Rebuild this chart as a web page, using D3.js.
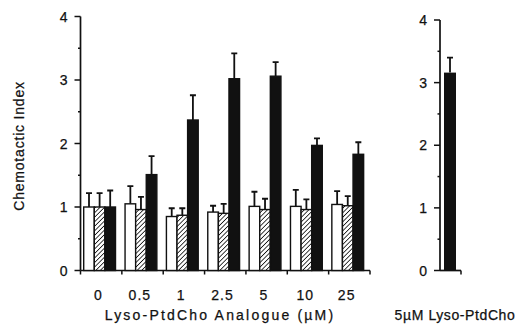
<!DOCTYPE html>
<html>
<head>
<meta charset="utf-8">
<script src="https://cdn.jsdelivr.net/npm/d3@7"></script>
<style>
  body { margin: 0; background: #fff; }
  svg { display: block; }
  text { font-family: "Liberation Sans", Arial, Helvetica, sans-serif; fill: #111; stroke: #111; stroke-width: 0.25px; }
</style>
</head>
<body>
<svg width="522" height="324"></svg>
<script>
// concentrations of the analogue (uM)
const concentrations = ["0", "0.5", "1", "2.5", "5", "10", "25"];
const series = ["open", "hatched", "solid"];

// chemotactic index
const openValues    = [1.00, 1.05, 0.85, 0.92, 1.01, 1.01, 1.04];
const openErr       = [0.22, 0.28, 0.13, 0.10, 0.23, 0.26, 0.21];
const hatchedValues = [1.00, 0.96, 0.87, 0.90, 0.96, 0.96, 1.02];
const hatchedErr    = [0.22, 0.20, 0.11, 0.15, 0.17, 0.16, 0.15];
const solidValues   = [1.00, 1.51, 2.37, 3.02, 3.06, 1.97, 1.83];
const solidErr      = [0.26, 0.29, 0.39, 0.40, 0.22, 0.11, 0.19];

// 5 uM Lyso-PtdCho reference
const refCategory = ["5µM Lyso-PtdCho"];
const refValues = [3.16];
const refErr = [0.24];

const yTicks = [0, 1, 2, 3, 4];
const yMinor = [0.5, 1.5, 2.5, 3.5];

const svg = d3.select("svg");

const defs = svg.append("defs");
const pat = defs.append("pattern")
  .attr("id", "hatch")
  .attr("patternUnits", "userSpaceOnUse")
  .attr("width", 3.2).attr("height", 3.2)
  .attr("patternTransform", "rotate(45)");
pat.append("rect").attr("width", 3.2).attr("height", 3.2).attr("fill", "#fff");
pat.append("line").attr("x1", 0).attr("y1", 0).attr("x2", 0).attr("y2", 3.2)
  .attr("stroke", "#111").attr("stroke-width", 1.6);

const fills = { open: "#fff", hatched: "url(#hatch)", solid: "#111" };

const rows = concentrations.map((c, i) => ({
  conc: c,
  bars: [
    { key: "open", v: openValues[i], e: openErr[i] },
    { key: "hatched", v: hatchedValues[i], e: hatchedErr[i] },
    { key: "solid", v: solidValues[i], e: solidErr[i] }
  ]
}));

// ---- left panel
const x = d3.scaleBand().domain(concentrations).range([80.5, 370]);
const xInner = d3.scaleBand().domain(series)
  .range([3.2, 35]);
const y = d3.scaleLinear().domain([0, 4]).range([270.5, 16.5]);

function drawYAxis(g, scale, x0) {
  const ax = g.append("g").attr("transform", `translate(${x0},0)`);
  ax.append("line").attr("y1", scale(0)).attr("y2", scale(4))
    .attr("stroke", "#111").attr("stroke-width", 1.7);
  ax.selectAll(".maj").data(yTicks).join("line")
    .attr("x1", -6).attr("x2", 0)
    .attr("y1", d => scale(d)).attr("y2", d => scale(d))
    .attr("stroke", "#111").attr("stroke-width", 1.5);
  ax.selectAll(".min").data(yMinor).join("line")
    .attr("x1", -2.5).attr("x2", 0)
    .attr("y1", d => scale(d)).attr("y2", d => scale(d))
    .attr("stroke", "#111").attr("stroke-width", 1.5);
  ax.selectAll("text").data(yTicks).join("text")
    .attr("x", -13).attr("y", d => scale(d))
    .attr("dy", "0.36em")
    .attr("text-anchor", "end")
    .style("font-size", "14px")
    .text(d => d);
}

const left = svg.append("g");
drawYAxis(left, y, 80.5);

// x axis line and ticks at group boundaries
left.append("line")
  .attr("x1", 80.5).attr("x2", 370)
  .attr("y1", y(0)).attr("y2", y(0))
  .attr("stroke", "#111").attr("stroke-width", 1.7);
const bounds = concentrations.map(c => x(c)).concat([x.range()[1]]);
left.selectAll(".xt").data(bounds).join("line")
  .attr("x1", d => d).attr("x2", d => d)
  .attr("y1", y(0)).attr("y2", y(0) + 4)
  .attr("stroke", "#111").attr("stroke-width", 1.5);

const groups = left.selectAll(".grp").data(rows).join("g")
  .attr("transform", d => `translate(${x(d.conc)},0)`);

// error bars first so the bar outline sits on top
groups.selectAll(".err").data(d => d.bars).join("path")
  .attr("d", b => {
    const cx = xInner(b.key) + xInner.bandwidth() / 2;
    const t = y(b.v + b.e);
    return `M${cx},${y(b.v)}V${t}M${cx - 3},${t}H${cx + 3}`;
  })
  .attr("fill", "none").attr("stroke", "#111").attr("stroke-width", 1.8);

groups.selectAll(".bar").data(d => d.bars).join("rect")
  .attr("x", b => xInner(b.key))
  .attr("width", xInner.bandwidth())
  .attr("y", b => y(b.v))
  .attr("height", b => y(0) - y(b.v))
  .attr("fill", b => fills[b.key])
  .attr("stroke", "#111").attr("stroke-width", 1.4);

left.selectAll(".xl").data(concentrations).join("text")
  .attr("x", c => x(c) + 18)
  .attr("y", 300)
  .attr("text-anchor", "middle")
  .style("font-size", "14px")
  .style("letter-spacing", "1px")
  .text(c => c);

left.append("text")
  .attr("x", 220).attr("y", 320)
  .attr("text-anchor", "middle")
  .style("font-size", "14px")
  .style("letter-spacing", "2.2px")
  .text("Lyso-PtdCho Analogue (µM)");

svg.append("text")
  .attr("transform", "translate(24,146) rotate(-90)")
  .attr("text-anchor", "middle")
  .style("font-size", "14px")
  .style("letter-spacing", "0.8px")
  .text("Chemotactic Index");

// ---- right panel
const xr = d3.scaleBand().domain(refCategory).range([440, 461]).paddingInner(0);
const yr = d3.scaleLinear().domain([0, 4]).range([270.5, 20]);
const right = svg.append("g");
drawYAxis(right, yr, 440);
right.append("line")
  .attr("x1", 440).attr("x2", 461)
  .attr("y1", yr(0)).attr("y2", yr(0))
  .attr("stroke", "#111").attr("stroke-width", 1.7);
right.selectAll(".xt").data([461]).join("line")
  .attr("x1", d => d).attr("x2", d => d)
  .attr("y1", yr(0)).attr("y2", yr(0) + 4)
  .attr("stroke", "#111").attr("stroke-width", 1.5);

const refRows = refCategory.map((c, i) => ({ c, v: refValues[i], e: refErr[i] }));
right.selectAll(".err").data(refRows).join("path")
  .attr("d", d => {
    const cx = xr(d.c) + 10;
    const t = yr(d.v + d.e);
    return `M${cx},${yr(d.v)}V${t}M${cx - 3},${t}H${cx + 3}`;
  })
  .attr("fill", "none").attr("stroke", "#111").attr("stroke-width", 1.8);
right.selectAll(".bar").data(refRows).join("rect")
  .attr("x", d => xr(d.c) + 4)
  .attr("width", 12)
  .attr("y", d => yr(d.v))
  .attr("height", d => yr(0) - yr(d.v))
  .attr("fill", "#111");

right.selectAll(".lab").data(refCategory).join("text")
  .attr("x", 455).attr("y", 320)
  .attr("text-anchor", "middle")
  .style("font-size", "14px")
  .style("letter-spacing", "0.6px")
  .text(d => d);
</script>
</body>
</html>
